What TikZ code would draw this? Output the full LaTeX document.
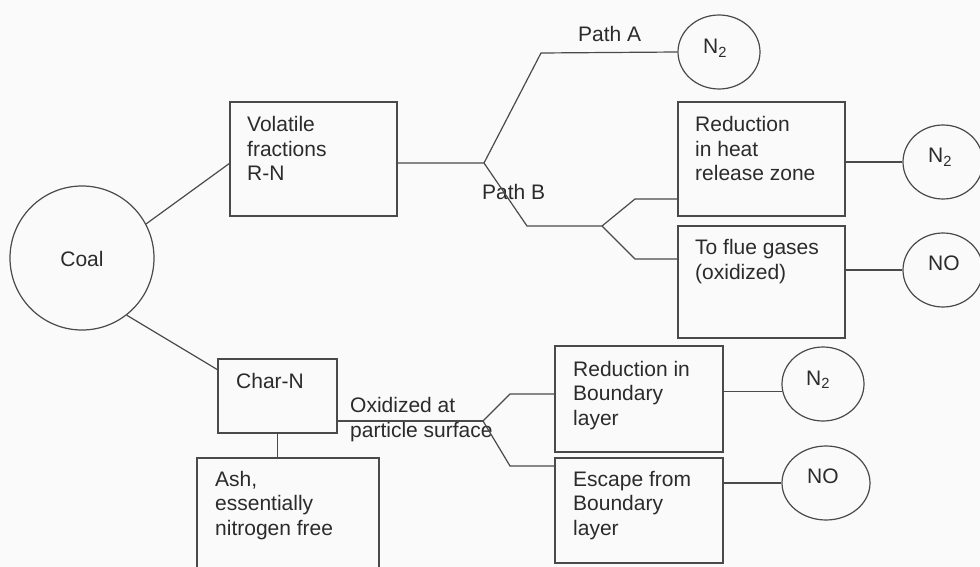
\documentclass[tikz,border=0pt]{standalone}
\usepackage{fontspec}
\setmainfont{Liberation Sans}
\usetikzlibrary{shapes.geometric}
\definecolor{ink}{HTML}{2B2B2B}
\definecolor{edge}{HTML}{4A4A4A}
\definecolor{bg}{HTML}{FAFAFA}
\begin{document}
\begin{tikzpicture}[x=1pt,y=-1pt,
  every node/.style={font=\fontsize{21}{24.5}\selectfont, text=ink},
  boxshape/.style={draw=edge, line width=1.3pt, rectangle, inner sep=0pt},
  ring/.style={draw=edge, line width=1.2pt, ellipse, inner sep=0pt},
  lbl/.style={anchor=base west, inner sep=0pt, align=left},
  wire/.style={draw=edge, line width=1.2pt}]
\useasboundingbox (0,0) rectangle (980,567);
\fill[bg] (0,0) rectangle (980,567);
\begin{scope}
\clip (0,0) rectangle (980,567);
% shapes
\node[draw=edge, line width=1.2pt, circle, minimum size=144pt, inner sep=0pt] (coal) at (82,258) {};
\node[boxshape, minimum width=167pt, minimum height=114pt] (vol) at (313.5,159) {};
\node[boxshape, minimum width=167pt, minimum height=114pt] (red) at (761.5,159) {};
\node[boxshape, minimum width=167pt, minimum height=112pt] (flue) at (761.5,282) {};
\node[boxshape, minimum width=119pt, minimum height=74pt] (char) at (277.5,396) {};
\node[boxshape, minimum width=182pt, minimum height=142pt] (ash) at (288,529) {};
\node[boxshape, minimum width=168pt, minimum height=106pt] (rbl) at (639,399) {};
\node[boxshape, minimum width=168pt, minimum height=105pt] (esc) at (639,510.5) {};
\node[ring, minimum width=82pt, minimum height=74pt] (n2a) at (719,52) {};
\node[ring, minimum width=80pt, minimum height=74pt] (n2b) at (943,162) {};
\node[ring, minimum width=80pt, minimum height=74pt] (noa) at (943,270) {};
\node[ring, minimum width=82pt, minimum height=74pt] (n2c) at (823,384) {};
\node[ring, minimum width=88pt, minimum height=74pt] (nob) at (826,483) {};
% texts (multi-line: anchor at baseline of last line)
\node[inner sep=0pt] (tcoal) at (82,259) {Coal};
\node[lbl] (tvol) at (247,181) {Volatile\\fractions\\R-N};
\node[lbl] (tred) at (695,181) {Reduction\\in heat\\release zone};
\node[lbl] (tflue) at (695,279) {To flue gases\\(oxidized)};
\node[lbl] (tchar) at (236,388) {Char-N};
\node[lbl] (tash) at (215,535) {Ash,\\essentially\\nitrogen free};
\node[lbl] (trbl) at (573,425) {Reduction in\\Boundary\\layer};
\node[lbl] (tesc) at (573,535) {Escape from\\Boundary\\layer};
\node[lbl] (tpa) at (578,42) {Path A};
\node[lbl] (tpb) at (482,200) {Path B};
\node[lbl] (tox) at (350,437) {Oxidized at\\particle surface};
\node[lbl] (tn2a) at (703,54) {N\textsubscript{2}};
\node[lbl] (tn2b) at (928,163) {N\textsubscript{2}};
\node[lbl] (tnoa) at (928,270) {NO};
\node[lbl] (tn2c) at (806,385) {N\textsubscript{2}};
\node[lbl] (tnob) at (807,483) {NO};
% junction coordinates
\coordinate (j1) at (484,163);
\coordinate (pa) at (541,53);
\coordinate (pb) at (527,226);
\coordinate (j2) at (602,226);
\coordinate (bu) at (635,199);
\coordinate (bd) at (635,259);
\coordinate (vin) at (230,163);
\coordinate (cin) at (218,370);
\coordinate (j3) at (483,421);
\coordinate (cu) at (510,394);
\coordinate (cd) at (510,466);
% connectors
\draw[wire] (coal.28) -- (vin);
\draw[wire] (coal.-52) -- (cin);
\draw[wire] (vol.east |- j1) -- (j1) -- (pa) -- (n2a.west);
\draw[wire] (j1) -- (pb) -- (j2);
\draw[wire] (j2) -- (bu) -- (bu -| red.west);
\draw[wire] (j2) -- (bd) -- (bd -| flue.west);
\draw[wire] (n2b.west -| red.east) -- (n2b.west);
\draw[wire] (noa.west -| flue.east) -- (noa.west);
\draw[wire] (char.south) -- (char.south |- ash.north);
\draw[wire] (char.east |- j3) -- (j3);
\draw[wire] (j3) -- (cu) -- (cu -| rbl.west);
\draw[wire] (j3) -- (cd) -- (cd -| esc.west);
\draw[wire] (n2c.190 -| rbl.east) -- (n2c.190);
\draw[wire] (nob.west -| esc.east) -- (nob.west);
\end{scope}
\end{tikzpicture}
\end{document}
